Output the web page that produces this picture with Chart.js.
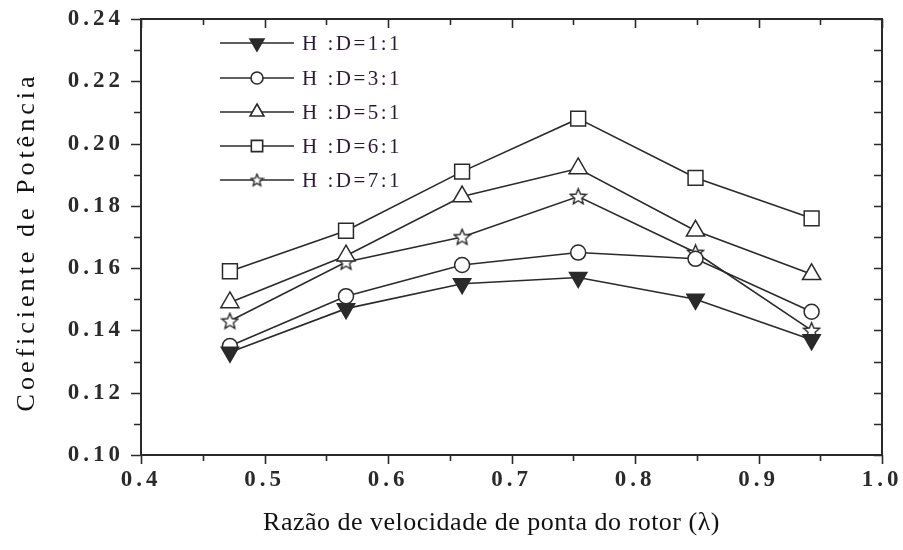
<!DOCTYPE html>
<html>
<head>
<meta charset="utf-8">
<script src="https://cdn.jsdelivr.net/npm/chart.js@4.4.0/dist/chart.umd.min.js"></script>
<style>
  html, body { margin: 0; padding: 0; background: #fff; }
  #wrap { width: 903px; height: 550px; }
</style>
</head>
<body>
<div id="wrap"><canvas id="cpChart" width="903" height="550"></canvas></div>
<script>
// razão de velocidade de ponta (λ)
const tsr = [0.472, 0.566, 0.660, 0.754, 0.849, 0.943];

// coeficiente de potência por razão H:D
const cp11 = [0.133, 0.147, 0.155, 0.157, 0.150, 0.137];
const cp31 = [0.135, 0.151, 0.161, 0.165, 0.163, 0.146];
const cp51 = [0.149, 0.164, 0.183, 0.192, 0.172, 0.158];
const cp61 = [0.159, 0.172, 0.191, 0.208, 0.189, 0.176];
const cp71 = [0.143, 0.162, 0.170, 0.183, 0.165, 0.140];

const seriesLabels = ["H :D=1:1", "H :D=3:1", "H :D=5:1", "H :D=6:1", "H :D=7:1"];

const xTicks = [0.4, 0.5, 0.6, 0.7, 0.8, 0.9, 1.0];
const yTicks = [0.10, 0.12, 0.14, 0.16, 0.18, 0.20, 0.22, 0.24];

const xTitle = "Razão de velocidade de ponta do rotor (λ)";
const yTitle = "Coeficiente de Potência";

const INK = "#2a2a2a";
const SERIF = "'Liberation Serif', 'DejaVu Serif', serif";

// estrela de cinco pontas (o 'star' do Chart.js é um asterisco)
function makeStar(size) {
  const c = document.createElement("canvas");
  c.width = size;
  c.height = size;
  const g = c.getContext("2d");
  const cx = size / 2, cy = size / 2 + 0.5;
  const ro = size / 2 - 1.2, ri = ro * 0.45;
  g.beginPath();
  for (let i = 0; i < 10; i++) {
    const r = i % 2 === 0 ? ro : ri;
    const a = -Math.PI / 2 + (i * Math.PI) / 5;
    const px = cx + r * Math.cos(a), py = cy + r * Math.sin(a);
    if (i === 0) g.moveTo(px, py); else g.lineTo(px, py);
  }
  g.closePath();
  g.fillStyle = "#fff";
  g.fill();
  g.lineWidth = 1.4;
  g.strokeStyle = INK;
  g.stroke();
  return c;
}
const starBig = makeStar(19);
const starSmall = makeStar(15);

function pts(ys) {
  return tsr.map((x, i) => ({ x: x, y: ys[i] }));
}

const styles = [
  { data: cp11, pointStyle: "triangle", rotation: 180, radius: 10, fill: INK, legendR: 8, legendStyle: "triangle" },
  { data: cp31, pointStyle: "circle", rotation: 0, radius: 7.5, fill: "#fff", legendR: 6, legendStyle: "circle" },
  { data: cp51, pointStyle: "triangle", rotation: 0, radius: 10.5, fill: "#fff", legendR: 8, legendStyle: "triangle" },
  { data: cp61, pointStyle: "rect", rotation: 0, radius: 10.5, fill: "#fff", legendR: 8, legendStyle: "rect" },
  { data: cp71, pointStyle: starBig, rotation: 0, radius: 9, fill: "#fff", legendR: 7, legendStyle: starSmall },
];

const datasets = styles.map((s, i) => ({
  label: seriesLabels[i],
  data: pts(s.data),
  borderColor: INK,
  borderWidth: 1.6,
  pointStyle: s.pointStyle,
  rotation: s.rotation,
  pointRadius: s.radius,
  pointHoverRadius: s.radius,
  pointBackgroundColor: s.fill,
  pointBorderColor: INK,
  pointBorderWidth: 1.5,
  tension: 0,
  legendR: s.legendR,
  legendStyle: s.legendStyle,
}));

// espaçamento largo nos números dos eixos
const spacing = {
  id: "spacing",
  beforeDraw(chart) { chart.ctx.letterSpacing = "4px"; },
  afterDraw(chart) { chart.ctx.letterSpacing = "0px"; },
};

// moldura, marcas de escala e títulos dos eixos
const framePlugin = {
  id: "frame",
  afterDraw(chart) {
    const ctx = chart.ctx;
    const a = chart.chartArea;
    const xs = chart.scales.x, ys = chart.scales.y;
    ctx.save();
    ctx.strokeStyle = INK;
    ctx.lineWidth = 2;
    ctx.strokeRect(a.left, a.top, a.right - a.left, a.bottom - a.top);
    ctx.lineWidth = 1.6;
    ctx.beginPath();
    for (let v = 0.4; v <= 1.0001; v += 0.05) {
      const major = Math.abs(v * 10 - Math.round(v * 10)) < 1e-6;
      const px = Math.round(xs.getPixelForValue(v)) + 0.5;
      const len = major ? 9 : 6;
      ctx.moveTo(px, a.bottom); ctx.lineTo(px, a.bottom + len);
      ctx.moveTo(px, a.top); ctx.lineTo(px, a.top + len);
    }
    for (let v = 0.10; v <= 0.2401; v += 0.01) {
      const major = Math.round(v * 100) % 2 === 0;
      const py = Math.round(ys.getPixelForValue(v)) + 0.5;
      const len = major ? 10 : 7;
      ctx.moveTo(a.left, py); ctx.lineTo(a.left - len, py);
      ctx.moveTo(a.right, py); ctx.lineTo(a.right - 8, py);
    }
    ctx.stroke();

    ctx.fillStyle = "#111";
    ctx.font = "26px " + SERIF;
    ctx.textAlign = "center";
    ctx.textBaseline = "alphabetic";
    ctx.letterSpacing = "0.5px";
    ctx.fillText(xTitle, (a.left + a.right) / 2 - 20, 530);

    ctx.letterSpacing = "4px";
    ctx.translate(34, (a.top + a.bottom) / 2 + 5);
    ctx.rotate(-Math.PI / 2);
    ctx.fillText(yTitle, 0, 0);
    ctx.restore();
  },
};

// legenda dentro da área do gráfico
const insideLegend = {
  id: "insideLegend",
  afterDatasetsDraw(chart) {
    const ctx = chart.ctx;
    const x0 = 220, x1 = 294, xm = 257, tx = 302;
    const rows = [43, 78, 112, 146, 180];
    ctx.save();
    chart.data.datasets.forEach((ds, i) => {
      const y = rows[i];
      ctx.strokeStyle = INK;
      ctx.lineWidth = 1.6;
      ctx.beginPath();
      ctx.moveTo(x0, y); ctx.lineTo(x1, y);
      ctx.stroke();
      ctx.fillStyle = ds.pointBackgroundColor;
      ctx.strokeStyle = INK;
      Chart.helpers.drawPoint(ctx, {
        pointStyle: ds.legendStyle,
        radius: ds.legendR,
        rotation: ds.rotation,
        borderWidth: 1.5,
      }, xm, y);
      ctx.fillStyle = "#2b1a33";
      ctx.font = "21px " + SERIF;
      ctx.letterSpacing = "2.5px";
      ctx.textBaseline = "middle";
      ctx.textAlign = "left";
      ctx.fillText(ds.label, tx, y + 1);
    });
    ctx.restore();
  },
};

new Chart(document.getElementById("cpChart").getContext("2d"), {
  type: "line",
  data: { datasets: datasets },
  plugins: [spacing, framePlugin, insideLegend],
  options: {
    responsive: false,
    animation: false,
    events: [],
    layout: { padding: { top: 19, right: 21, left: 0, bottom: 0 } },
    plugins: { legend: { display: false }, tooltip: { enabled: false } },
    scales: {
      x: {
        type: "linear",
        min: 0.4,
        max: 1.0,
        afterBuildTicks(scale) { scale.ticks = xTicks.map(v => ({ value: v })); },
        afterFit(scale) {
          scale.height = 95;
          scale.paddingLeft = 0;
          scale.paddingRight = 0;
        },
        grid: { display: false },
        border: { display: false },
        ticks: {
          color: INK,
          padding: 3,
          font: { family: SERIF, size: 23, weight: "bold" },
          callback: v => v.toFixed(1),
        },
      },
      y: {
        type: "linear",
        min: 0.10,
        max: 0.24,
        afterBuildTicks(scale) { scale.ticks = yTicks.map(v => ({ value: v })); },
        afterFit(scale) {
          scale.width = 141;
          scale.paddingTop = 0;
          scale.paddingBottom = 0;
        },
        grid: { display: false },
        border: { display: false },
        ticks: {
          color: INK,
          padding: 9,
          font: { family: SERIF, size: 23, weight: "bold" },
          callback: v => v.toFixed(2),
        },
      },
    },
  },
});
</script>
</body>
</html>
